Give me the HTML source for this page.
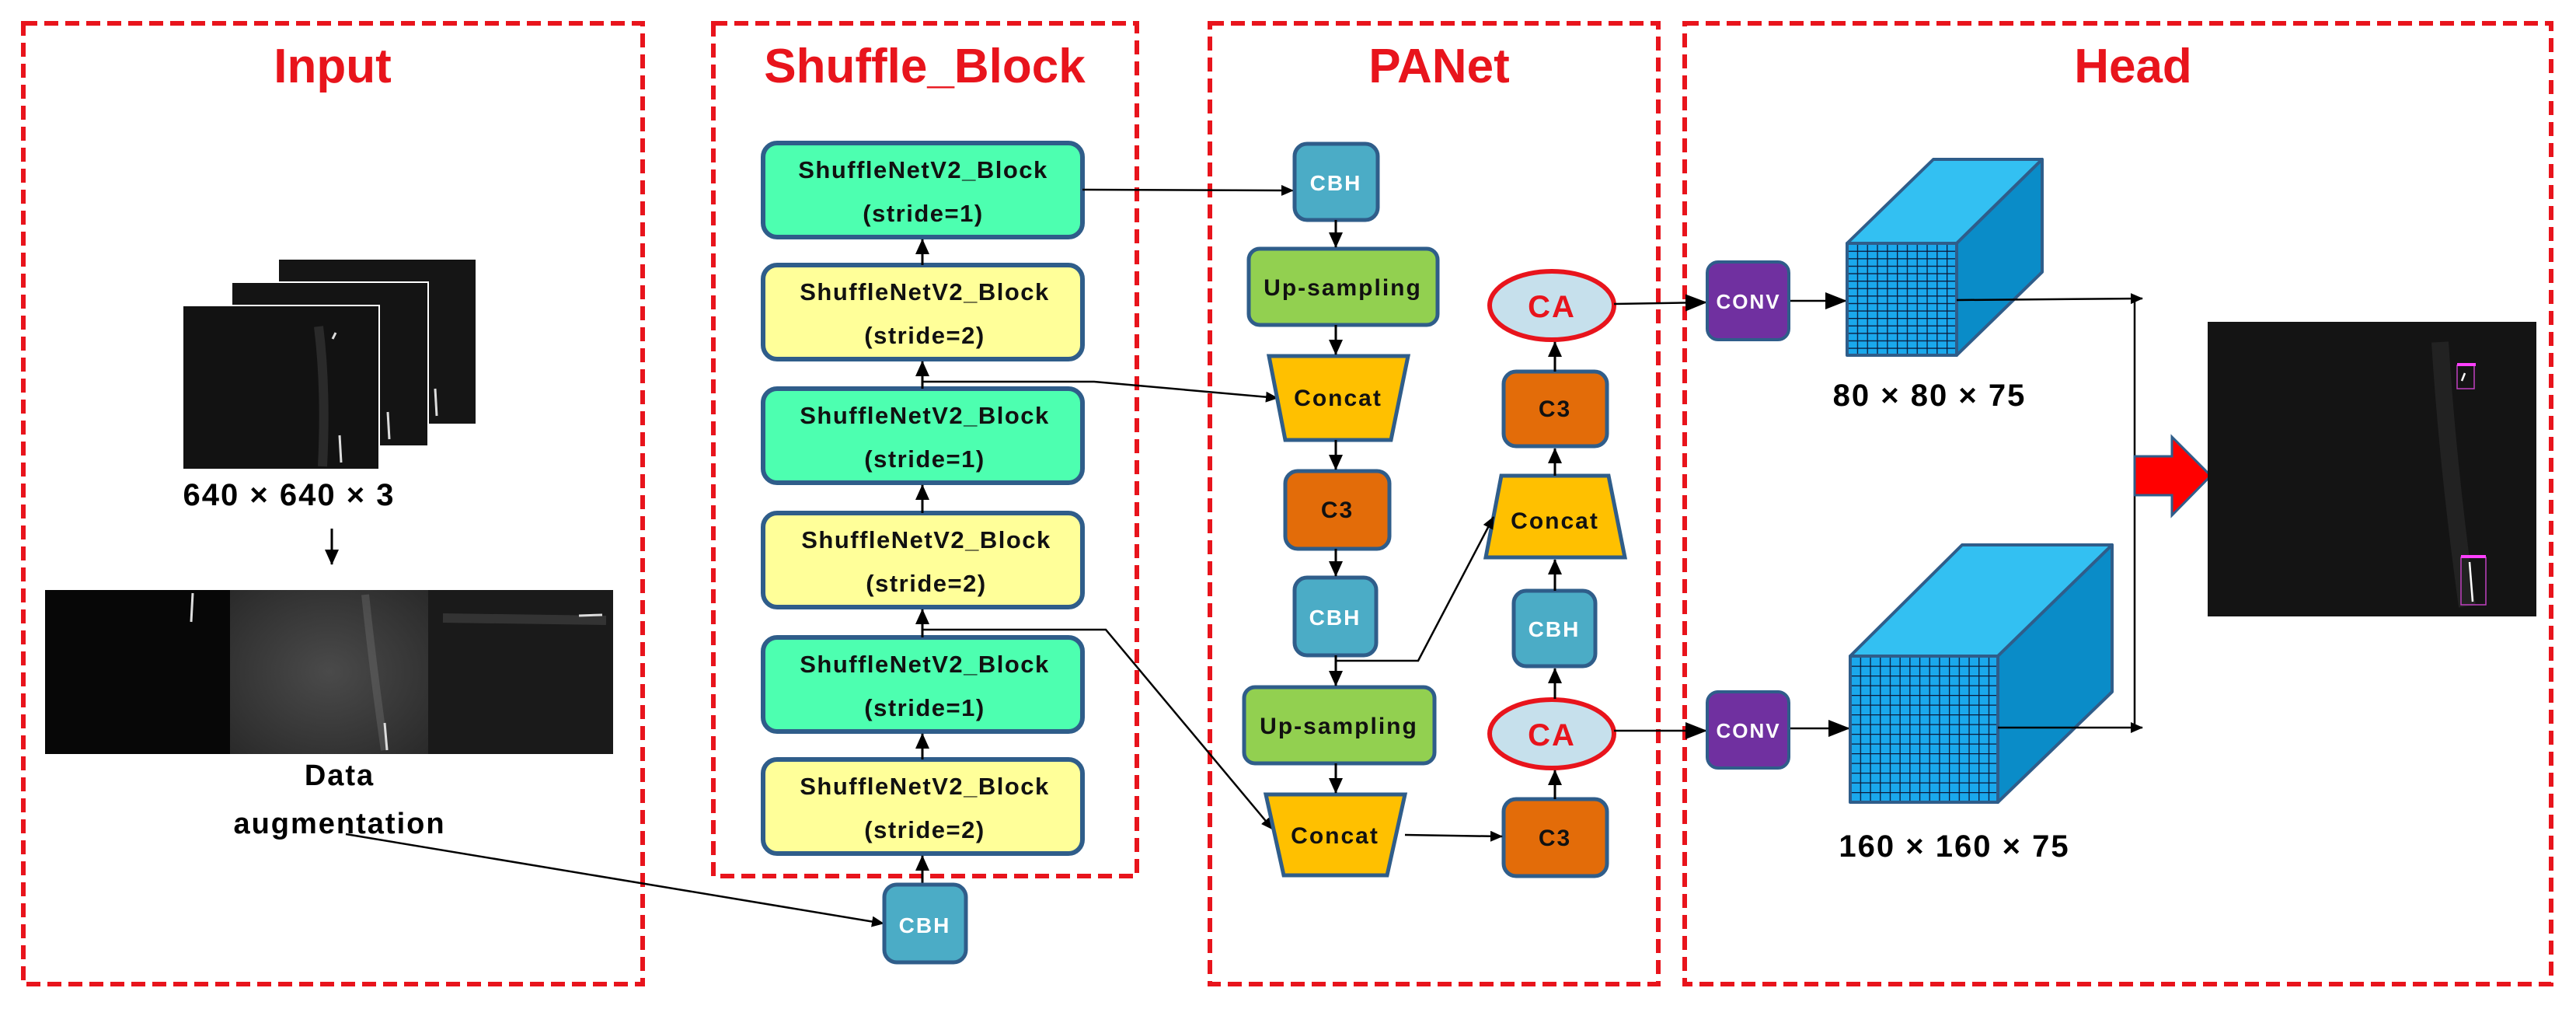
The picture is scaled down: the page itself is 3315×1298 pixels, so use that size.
<!DOCTYPE html>
<html><head><meta charset="utf-8"><style>
html,body{margin:0;padding:0;background:#fff;}
svg{display:block;font-family:"Liberation Sans","DejaVu Sans",sans-serif;font-weight:bold;}
</style></head><body>
<svg width="3315" height="1298" viewBox="0 0 3315 1298" xmlns="http://www.w3.org/2000/svg">
<defs>
<marker id="ar" markerWidth="16" markerHeight="14" refX="15" refY="7" orient="auto" markerUnits="userSpaceOnUse" viewBox="0 0 16 14">
<path d="M0,0 L16,7 L0,14 z" fill="#000"/></marker>
<marker id="ab" markerWidth="28" markerHeight="22" refX="26" refY="11" orient="auto" markerUnits="userSpaceOnUse" viewBox="0 0 28 22">
<path d="M0,0 L28,11 L0,22 z" fill="#000"/></marker>
<marker id="as" markerWidth="20" markerHeight="18" refX="19" refY="9" orient="auto" markerUnits="userSpaceOnUse" viewBox="0 0 20 18">
<path d="M0,0 L20,9 L0,18 z" fill="#000"/></marker>
<pattern id="g1" width="12.8" height="9.6" patternUnits="userSpaceOnUse" x="2377" y="313">
<rect width="12.8" height="9.6" fill="#1aa8ec"/><path d="M0,0H12.8M0,0V9.6" stroke="#0b1a3a" stroke-width="2.6"/></pattern>
<pattern id="g2" width="12.7" height="12.5" patternUnits="userSpaceOnUse" x="2381" y="844">
<rect width="12.7" height="12.5" fill="#1aa8ec"/><path d="M0,0H12.7M0,0V12.5" stroke="#0b1a3a" stroke-width="2.6"/></pattern>
<radialGradient id="gr" cx="0.5" cy="0.5" r="0.7"><stop offset="0" stop-color="#4a4a4a"/><stop offset="1" stop-color="#2a2a2a"/></radialGradient>
</defs>

<g fill="none" stroke="#e8141c" stroke-width="6" stroke-dasharray="18,9">
<rect x="30" y="30" width="797" height="1236"/>
<rect x="918" y="30" width="545" height="1097"/>
<rect x="1557" y="30" width="577" height="1236"/>
<rect x="2168" y="30" width="1115" height="1236"/>
</g>
<g fill="#e8141c" font-size="62" text-anchor="middle">
<text x="428" y="106">Input</text>
<text x="1190" y="106">Shuffle_Block</text>
<text x="1852" y="106">PANet</text>
<text x="2745" y="106">Head</text>
</g>

<rect x="359" y="334" width="253" height="211" fill="#151515"/>
<rect x="298" y="363" width="253" height="211" fill="#141414" stroke="#fff" stroke-width="2"/>
<rect x="235" y="393" width="253" height="211" fill="#121212" stroke="#fff" stroke-width="2"/>
<path d="M410,420 Q420,500 415,600" stroke="#2a2a2a" stroke-width="12" fill="none"/>
<g stroke="#ddd" stroke-width="3"><line x1="437" y1="560" x2="439" y2="595"/><line x1="499" y1="530" x2="501" y2="565"/><line x1="560" y1="500" x2="562" y2="535"/><line x1="432" y1="428" x2="428" y2="436"/></g>
<text x="372" y="650" font-size="40" text-anchor="middle" fill="#000" letter-spacing="2">640 × 640 × 3</text>
<line x1="427" y1="680" x2="427" y2="726" stroke="#000" stroke-width="3" marker-end="url(#as)"/>
<rect x="58" y="759" width="238" height="211" fill="#070707"/>
<rect x="296" y="759" width="255" height="211" fill="url(#gr)"/>
<rect x="551" y="759" width="238" height="211" fill="#1a1a1a"/>
<path d="M470,765 Q480,860 495,965" stroke="#777" stroke-width="10" fill="none" opacity="0.35"/>
<path d="M570,795 L780,798" stroke="#333" stroke-width="12"/>
<g stroke="#ddd" stroke-width="3"><line x1="248" y1="763" x2="246" y2="800"/><line x1="495" y1="930" x2="498" y2="965"/><line x1="745" y1="792" x2="775" y2="791"/></g>
<text x="437" y="1010" font-size="38" text-anchor="middle" fill="#000" letter-spacing="2">Data</text>
<text x="437" y="1072" font-size="38" text-anchor="middle" fill="#000" letter-spacing="2">augmentation</text>
<line x1="445" y1="1073" x2="1137" y2="1188" stroke="#000" stroke-width="2.5" marker-end="url(#ar)"/>

<g stroke="#2f5d8a" stroke-width="6">
<rect x="982" y="184" width="411" height="121" rx="18" fill="#4dffb0"/>
<rect x="982" y="341" width="411" height="121" rx="18" fill="#ffff99"/>
<rect x="982" y="500" width="411" height="121" rx="18" fill="#4dffb0"/>
<rect x="982" y="660" width="411" height="121" rx="18" fill="#ffff99"/>
<rect x="982" y="820" width="411" height="121" rx="18" fill="#4dffb0"/>
<rect x="982" y="977" width="411" height="121" rx="18" fill="#ffff99"/>
</g>
<g font-size="31" text-anchor="middle" fill="#111" letter-spacing="1.5">
<text x="1188" y="229">ShuffleNetV2_Block</text><text x="1188" y="285">(stride=1)</text>
<text x="1190" y="386">ShuffleNetV2_Block</text><text x="1190" y="442">(stride=2)</text>
<text x="1190" y="545">ShuffleNetV2_Block</text><text x="1190" y="601">(stride=1)</text>
<text x="1192" y="705">ShuffleNetV2_Block</text><text x="1192" y="761">(stride=2)</text>
<text x="1190" y="865">ShuffleNetV2_Block</text><text x="1190" y="921">(stride=1)</text>
<text x="1190" y="1022">ShuffleNetV2_Block</text><text x="1190" y="1078">(stride=2)</text>
</g>
<g stroke="#000" stroke-width="3">
<line x1="1187" y1="341" x2="1187" y2="308" marker-end="url(#as)"/>
<line x1="1187" y1="500" x2="1187" y2="465" marker-end="url(#as)"/>
<line x1="1187" y1="660" x2="1187" y2="624" marker-end="url(#as)"/>
<line x1="1187" y1="820" x2="1187" y2="784" marker-end="url(#as)"/>
<line x1="1187" y1="977" x2="1187" y2="944" marker-end="url(#as)"/>
<line x1="1187" y1="1138" x2="1187" y2="1101" marker-end="url(#as)"/>
</g>
<rect x="1138" y="1138" width="105" height="100" rx="16" fill="#4bacc6" stroke="#2f5d8a" stroke-width="5"/>
<text x="1190" y="1200" font-size="28" fill="#fff" text-anchor="middle" letter-spacing="2">CBH</text>

<g stroke="#000" stroke-width="2.5" fill="none">
<line x1="1393" y1="244" x2="1664" y2="245" marker-end="url(#ar)"/>
<polyline points="1187,491 1408,491 1644,512" marker-end="url(#ar)"/>
<polyline points="1187,810 1423,810 1638,1067" marker-end="url(#ar)"/>
</g>

<g stroke="#2f5d8a" stroke-width="5">
<rect x="1666" y="185" width="107" height="98" rx="16" fill="#4bacc6"/>
<rect x="1607" y="320" width="243" height="98" rx="14" fill="#92d050"/>
<polygon points="1633,458 1812,458 1790,566 1654,566" fill="#ffc000"/>
<rect x="1654" y="606" width="134" height="100" rx="16" fill="#e36c09"/>
<rect x="1666" y="743" width="105" height="100" rx="16" fill="#4bacc6"/>
<rect x="1601" y="884" width="245" height="98" rx="14" fill="#92d050"/>
<polygon points="1629,1022 1808,1022 1785,1126 1652,1126" fill="#ffc000"/>
<rect x="1935" y="1028" width="133" height="99" rx="16" fill="#e36c09"/>
<rect x="1948" y="760" width="105" height="97" rx="16" fill="#4bacc6"/>
<polygon points="1932,612 2070,612 2091,717 1912,717" fill="#ffc000"/>
<rect x="1935" y="478" width="133" height="96" rx="16" fill="#e36c09"/>
</g>
<ellipse cx="1997" cy="393" rx="80" ry="44" fill="#c6e0ec" stroke="#e8141c" stroke-width="6"/>
<ellipse cx="1997" cy="944" rx="80" ry="44" fill="#c6e0ec" stroke="#e8141c" stroke-width="6"/>
<g font-size="30" text-anchor="middle" letter-spacing="2">
<text x="1719" y="245" fill="#fff" font-size="28">CBH</text>
<text x="1728" y="380" fill="#111">Up-sampling</text>
<text x="1722" y="522" fill="#111">Concat</text>
<text x="1721" y="666" fill="#111">C3</text>
<text x="1718" y="804" fill="#fff" font-size="28">CBH</text>
<text x="1723" y="944" fill="#111">Up-sampling</text>
<text x="1718" y="1085" fill="#111">Concat</text>
<text x="2001" y="1088" fill="#111">C3</text>
<text x="2000" y="819" fill="#fff" font-size="28">CBH</text>
<text x="2001" y="680" fill="#111">Concat</text>
<text x="2001" y="536" fill="#111">C3</text>
<text x="1997" y="408" fill="#e8141c" font-size="40">CA</text>
<text x="1997" y="959" fill="#e8141c" font-size="40">CA</text>
</g>
<g stroke="#000" stroke-width="3" fill="none">
<line x1="1719" y1="283" x2="1719" y2="318" marker-end="url(#as)"/>
<line x1="1719" y1="418" x2="1719" y2="456" marker-end="url(#as)"/>
<line x1="1719" y1="566" x2="1719" y2="604" marker-end="url(#as)"/>
<line x1="1719" y1="706" x2="1719" y2="741" marker-end="url(#as)"/>
<line x1="1719" y1="843" x2="1719" y2="882" marker-end="url(#as)"/>
<line x1="1719" y1="982" x2="1719" y2="1020" marker-end="url(#as)"/>
<line x1="1808" y1="1074" x2="1933" y2="1076" stroke-width="2.5" marker-end="url(#ar)"/>
<polyline points="1719,850 1825,850 1922,665" stroke-width="2.5" marker-end="url(#ar)"/>
<line x1="2001" y1="1028" x2="2001" y2="991" marker-end="url(#as)"/>
<line x1="2001" y1="899" x2="2001" y2="860" marker-end="url(#as)"/>
<line x1="2001" y1="760" x2="2001" y2="720" marker-end="url(#as)"/>
<line x1="2001" y1="612" x2="2001" y2="577" marker-end="url(#as)"/>
<line x1="2001" y1="478" x2="2001" y2="440" marker-end="url(#as)"/>
</g>

<g stroke="#000" stroke-width="2.5" fill="none">
<line x1="2077" y1="391" x2="2195" y2="389" marker-end="url(#ab)"/>
<line x1="2077" y1="940" x2="2195" y2="940" marker-end="url(#ab)"/>
<line x1="2302" y1="387" x2="2375" y2="387" marker-end="url(#ab)"/>
<line x1="2302" y1="937" x2="2379" y2="937" marker-end="url(#ab)"/>
</g>
<rect x="2197" y="337" width="105" height="100" rx="14" fill="#7030a0" stroke="#2f5d8a" stroke-width="4"/>
<rect x="2197" y="890" width="105" height="98" rx="14" fill="#7030a0" stroke="#2f5d8a" stroke-width="4"/>
<text x="2250" y="397" font-size="26" fill="#fff" text-anchor="middle" letter-spacing="2">CONV</text>
<text x="2250" y="949" font-size="26" fill="#fff" text-anchor="middle" letter-spacing="2">CONV</text>

<g stroke="#2f5d8a" stroke-width="4" stroke-linejoin="round">
<polygon points="2377,313 2488,205 2628,205 2518,313" fill="#33c0f2"/>
<polygon points="2518,313 2628,205 2628,350 2518,457" fill="#0a8cc8"/>
<rect x="2377" y="313" width="141" height="144" fill="url(#g1)"/>
<polygon points="2381,844 2525,701 2718,701 2571,844" fill="#33c0f2"/>
<polygon points="2571,844 2718,701 2718,890 2571,1032" fill="#0a8cc8"/>
<rect x="2381" y="844" width="190" height="188" fill="url(#g2)"/>
</g>
<g stroke="#000" stroke-width="2.5" fill="none">
<line x1="2518" y1="386" x2="2757" y2="384" marker-end="url(#ar)"/>
<line x1="2571" y1="936" x2="2757" y2="936" marker-end="url(#ar)"/>
<line x1="2747" y1="384" x2="2747" y2="936"/>
</g>
<text x="2483" y="522" font-size="40" text-anchor="middle" fill="#000" letter-spacing="2">80 × 80 × 75</text>
<text x="2515" y="1102" font-size="40" text-anchor="middle" fill="#000" letter-spacing="2">160 × 160 × 75</text>
<polygon points="2747,587 2795,587 2795,562 2845,612 2795,663 2795,637 2747,637" fill="#f00" stroke="#2f5d8a" stroke-width="3"/>

<rect x="2841" y="414" width="423" height="379" fill="#141414"/>
<path d="M3140,440 Q3150,600 3175,780" stroke="#222" stroke-width="22" fill="none"/>
<g fill="none" stroke="#c040c0" stroke-width="1.5"><rect x="3162" y="470" width="22" height="30"/><rect x="3167" y="717" width="32" height="61"/></g>
<rect x="3162" y="467" width="24" height="4" fill="#ff40ff"/><rect x="3167" y="714" width="32" height="4" fill="#ff40ff"/>
<g stroke="#fff" stroke-width="2.5"><line x1="3168" y1="490" x2="3172" y2="480"/><line x1="3178" y1="723" x2="3182" y2="774"/></g>
</svg>
</body></html>
